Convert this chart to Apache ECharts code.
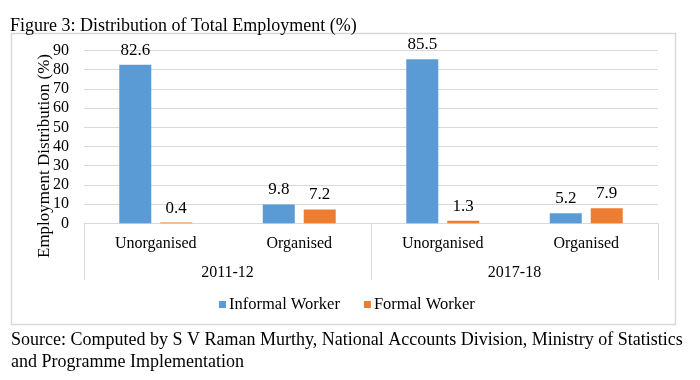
<!DOCTYPE html>
<html>
<head>
<meta charset="utf-8">
<script src="https://cdn.jsdelivr.net/npm/echarts@6/dist/echarts.min.js"></script>
<style>
html,body{margin:0;padding:0;background:#fff;}
#chart{width:700px;height:380px;}
</style>
</head>
<body>
<div id="chart"></div>
<script>
const categories = ['Unorganised', 'Organised', 'Unorganised', 'Organised'];
const groups = ['2011-12', '2017-18'];
const informalWorker = [82.6, 9.8, 85.5, 5.2];
const formalWorker = [0.4, 7.2, 1.3, 7.9];
const seriesNames = ['Informal Worker', 'Formal Worker'];
const titleText = 'Figure 3: Distribution of Total Employment (%)';
const yAxisTitle = 'Employment Distribution (%)';
const sourceLine1 = 'Source: Computed by S V Raman Murthy, National Accounts Division, Ministry of Statistics';
const sourceLine2 = 'and Programme Implementation';

const FONT = '"Liberation Serif", "Times New Roman", serif';
const chart = echarts.init(document.getElementById('chart'), null, {renderer: 'canvas'});

const labelStyle = {show: true, position: 'top', distance: 6, color: '#000', fontFamily: FONT, fontSize: 17};

chart.setOption({
  animation: false,
  title: {
    text: titleText, left: 10, top: 17, padding: 0,
    textStyle: {fontFamily: FONT, fontSize: 18, fontWeight: 'normal', color: '#000'}
  },
  legend: {
    data: seriesNames, left: 214, top: 291, itemWidth: 7, itemHeight: 7, itemGap: 24,
    icon: 'rect',
    textStyle: {fontFamily: FONT, fontSize: 16.5, color: '#000', padding: [0, 0, 0, -2]}
  },
  grid: {left: 84, right: 42, top: 50.5, bottom: 156.7, containLabel: false},
  xAxis: [
    {
      type: 'category', data: categories, position: 'bottom',
      axisLine: {show: true, lineStyle: {color: '#d9d9d9', width: 1}},
      axisTick: {show: false},
      axisLabel: {margin: 12, color: '#000', fontFamily: FONT, fontSize: 16, interval: 0}
    },
    {
      type: 'category', data: groups, position: 'bottom', gridIndex: 0,
      axisLine: {show: false},
      axisTick: {show: true, length: 57, alignWithLabel: false, lineStyle: {color: '#d9d9d9', width: 1}},
      axisLabel: {margin: 41, color: '#000', fontFamily: FONT, fontSize: 16, interval: 0},
      splitLine: {show: false}
    }
  ],
  yAxis: {
    type: 'value', min: 0, max: 90, interval: 10,
    axisLine: {show: false}, axisTick: {show: false},
    axisLabel: {margin: 15, color: '#000', fontFamily: FONT, fontSize: 16},
    splitLine: {lineStyle: {color: '#d9d9d9', width: 1}}
  },
  graphic: [
    {type: 'rect', shape: {x: 11.5, y: 33.5, width: 664, height: 291}, style: {fill: 'none', stroke: '#d9d9d9', lineWidth: 1.5}, z: -1},
    {type: 'text', x: 45, y: 156, rotation: Math.PI / 2,
     style: {text: yAxisTitle, fill: '#000', font: '17px ' + FONT, textAlign: 'center', textVerticalAlign: 'middle'}},
    {type: 'text', x: 11, y: 340,
     style: {text: sourceLine1, fill: '#000', font: '18px ' + FONT, textAlign: 'left', textVerticalAlign: 'middle'}},
    {type: 'text', x: 11, y: 362,
     style: {text: sourceLine2, fill: '#000', font: '18px ' + FONT, textAlign: 'left', textVerticalAlign: 'middle'}}
  ],
  series: [
    {name: seriesNames[0], type: 'bar', data: informalWorker, barWidth: 32, barGap: '28%',
     itemStyle: {color: '#5b9bd5'}, label: labelStyle},
    {name: seriesNames[1], type: 'bar', data: formalWorker, barWidth: 32, barGap: '28%',
     itemStyle: {color: '#ed7d31'}, label: labelStyle}
  ]
});
</script>
</body>
</html>
